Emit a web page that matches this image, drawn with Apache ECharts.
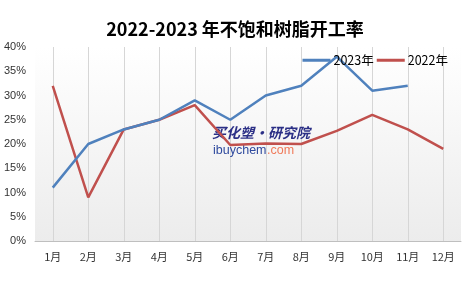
<!DOCTYPE html>
<html><head><meta charset="utf-8">
<script src="https://cdn.jsdelivr.net/npm/echarts@6/dist/echarts.min.js"></script>
<style>html,body{margin:0;padding:0;background:#fff}#c{width:470px;height:281px}</style>
</head><body><div id="c"></div>
<script>
const titleText = '2022-2023 年不饱和树脂开工率';
const months = ['1月','2月','3月','4月','5月','6月','7月','8月','9月','10月','11月','12月'];
const seriesNames = ['2023年','2022年'];
const values2023 = [11, 20, 23, 25, 29, 25, 30, 32, 38, 31, 32, null];
const values2022 = [32, 9, 23, 25, 28, 19.8, 20.1, 20, 22.7, 26, 23, 19];
const yTicks = [0, 5, 10, 15, 20, 25, 30, 35, 40];

const chart = echarts.init(document.getElementById('c'), null, {renderer: 'canvas'});
chart.setOption({
  animation: false,
  backgroundColor: '#ffffff',
  title: {
    text: titleText, left: 'center', top: 15,
    textStyle: {fontSize: 18, fontWeight: 'bold', color: '#000', fontFamily: '"Noto Sans CJK SC", sans-serif'}
  },
  legend: {
    data: seriesNames, right: 17, top: 49, icon: 'rect', itemWidth: 28, itemHeight: 3, itemGap: 3,
    textStyle: {fontSize: 12.5, color: '#000', fontFamily: '"Noto Sans CJK SC", sans-serif', padding: [0,0,0,-2]}
  },
  grid: {
    left: 35, right: 9, top: 47, bottom: 40, show: true, borderWidth: 0,
    backgroundColor: new echarts.graphic.LinearGradient(0, 0, 0, 1, [
      {offset: 0, color: '#ffffff'}, {offset: 1, color: '#ececec'}
    ])
  },
  xAxis: {
    type: 'category', data: months, boundaryGap: true,
    axisLine: {lineStyle: {color: '#bfbfbf', width: 1}},
    axisTick: {show: false},
    splitLine: {show: true, alignWithLabel: true, lineStyle: {color: '#d6d6d6', width: 1}},
    axisLabel: {fontSize: 11, color: '#333', margin: 10, fontFamily: '"Noto Sans CJK SC", sans-serif'}
  },
  yAxis: {
    type: 'value', min: yTicks[0], max: yTicks[yTicks.length-1], interval: 5,
    axisLine: {show: false}, axisTick: {show: false}, splitLine: {show: false},
    axisLabel: {fontSize: 11, color: '#333', margin: 9, formatter: v => v + '%', fontFamily: '"Liberation Sans", sans-serif'}
  },
  graphic: [
    {type: 'text', left: 212, top: 126, z: 1, style: {text: '买化塑·研究院', font: 'italic bold 14px "Noto Sans CJK SC"', fill: '#2b2f86'}},
    {type: 'text', left: 213, top: 144, z: 1, style: {text: 'ibuychem', font: '12.5px "Liberation Sans"', fill: '#2f4a9e'}},
    {type: 'text', left: 267, top: 144, z: 1, style: {text: '.com', font: '12.5px "Liberation Sans"', fill: '#f07a5a'}}
  ],
  series: [
    {name: seriesNames[0], type: 'line', data: values2023, symbol: 'none', z: 3,
     lineStyle: {color: '#4f81bd', width: 2.5}, itemStyle: {color: '#4f81bd'}},
    {name: seriesNames[1], type: 'line', data: values2022, symbol: 'none', z: 2,
     lineStyle: {color: '#c0504d', width: 2.5}, itemStyle: {color: '#c0504d'}}
  ]
});
</script></body></html>
